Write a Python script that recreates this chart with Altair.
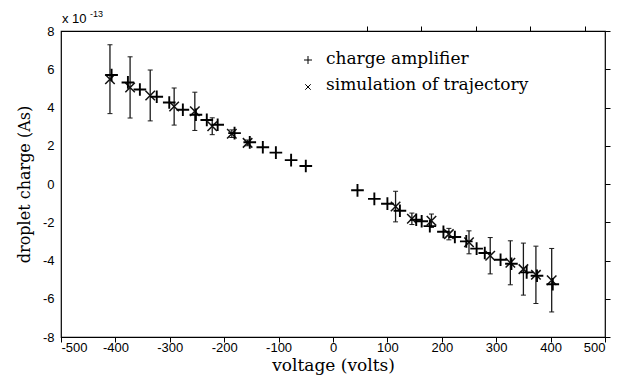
import altair as alt
import pandas as pd

# charge amplifier measurements (voltage in V, charge in 1e-13 As)
amp_v = [-407, -377, -355, -324, -301, -276, -252, -232, -212, -181, -153, -129, -105, -77, -50,
         45, 76, 100, 123, 153, 163, 178, 203, 224, 245, 264, 279, 308, 328, 356, 375, 404]
amp_q = [5.70, 5.31, 4.94, 4.56, 4.26, 3.88, 3.62, 3.35, 3.10, 2.66, 2.18, 1.92, 1.64, 1.25, 0.94,
         -0.33, -0.78, -1.03, -1.40, -1.87, -1.95, -2.20, -2.50, -2.77, -3.00, -3.38, -3.61, -3.96, -4.17, -4.62, -4.80, -5.24]

# simulation of trajectory (voltage, charge, error half-width)
sim_v = [-410, -373, -336, -292, -254, -222, -186, -157, 115, 145, 181, 213, 250, 289, 326, 350, 373, 402]
sim_q = [5.48, 5.05, 4.63, 4.05, 3.80, 3.02, 2.63, 2.15, -1.18, -1.82, -1.92, -2.62, -3.05, -3.75, -4.12, -4.45, -4.75, -5.03]
sim_e = [1.80, 1.60, 1.33, 0.97, 1.00, 0.44, 0.20, 0.15, 0.80, 0.30, 0.35, 0.30, 0.60, 0.95, 1.15, 1.36, 1.50, 1.66]

x_ticks = [-500, -400, -300, -200, -100, 0, 100, 200, 300, 400, 500]
y_ticks = [-8, -6, -4, -2, 0, 2, 4, 6, 8]

amp = pd.DataFrame({"V": amp_v, "Q": amp_q})
sim = pd.DataFrame({"V": sim_v, "Q": sim_q, "E": sim_e})
sim["lo"] = sim["Q"] - sim["E"]
sim["hi"] = sim["Q"] + sim["E"]
caps = pd.DataFrame({"V": sim_v * 2, "Q": list(sim["lo"]) + list(sim["hi"])})

W, H = 544, 306
xs = alt.Scale(domain=[-500, 500], nice=False, zero=False)
ys = alt.Scale(domain=[-8, 8], nice=False, zero=False)

SERIF = "DejaVu Serif"
SANS = "Liberation Sans"

def inward(orient, pos, vals):
    return alt.Axis(orient=orient, position=pos, values=vals, labels=False, title=None,
                    domain=False, grid=False, ticks=True, tickSize=5, tickColor="black",
                    tickWidth=1)

main_x = alt.Axis(orient="bottom", values=x_ticks, ticks=False, domain=False, grid=False,
                  labelFont=SANS, labelFontSize=13, labelColor="black", labelPadding=4,
                  labelExpr="'' + datum.value",
                  title="voltage (volts)", titleFont=SERIF, titleFontSize=17,
                  titleFontWeight="normal", titleColor="black", titlePadding=3)
main_y = alt.Axis(orient="left", values=y_ticks, ticks=False, domain=False, grid=False,
                  labelFont=SANS, labelFontSize=13, labelColor="black", labelPadding=7,
                  labelExpr="'' + datum.value",
                  title="droplet charge (As)", titleFont=SERIF, titleFontSize=16,
                  titleFontWeight="normal", titleColor="black", titlePadding=10)

errbars = alt.Chart(sim).mark_rule(color="#1a1a1a", strokeWidth=1.3).encode(
    x=alt.X("V:Q", scale=xs, axis=inward("top", H, x_ticks)),
    y=alt.Y("lo:Q", scale=ys, axis=inward("right", 0, y_ticks)),
    y2="hi:Q",
)

capmarks = alt.Chart(caps).mark_tick(orient="horizontal", size=5, thickness=1,
                                     color="#1a1a1a", opacity=1).encode(
    x=alt.X("V:Q", scale=xs, axis=inward("bottom", 0, x_ticks)),
    y=alt.Y("Q:Q", scale=ys, axis=inward("left", W, y_ticks)),
)

PLUS = "M-1,0L1,0M0,-1L0,1"
CROSS = "M-1,-1L1,1M-1,1L1,-1"

amp_pts = alt.Chart(amp).mark_point(shape=PLUS, size=160, filled=False, color="black",
                                    strokeWidth=1.9, opacity=1).encode(
    x=alt.X("V:Q", scale=xs, axis=main_x),
    y=alt.Y("Q:Q", scale=ys, axis=main_y),
)

sim_pts = alt.Chart(sim).mark_point(shape=CROSS, size=90, filled=False, color="#111111",
                                    strokeWidth=1.5, opacity=1).encode(
    x=alt.X("V:Q", scale=xs, axis=None),
    y=alt.Y("Q:Q", scale=ys, axis=None),
)

leg_df = pd.DataFrame({"a": [0]})
leg_plus = alt.Chart(leg_df).mark_point(shape=PLUS, size=64, filled=False, color="black",
                                        strokeWidth=1, opacity=1).encode(
    x=alt.value(247), y=alt.value(29))
leg_cross = alt.Chart(leg_df).mark_point(shape=CROSS, size=30, filled=False, color="black",
                                         strokeWidth=1, opacity=1).encode(
    x=alt.value(247), y=alt.value(56))
leg_t1 = alt.Chart(leg_df).mark_text(text="charge amplifier", font=SERIF, fontSize=17,
                                     align="left", baseline="middle", color="black").encode(
    x=alt.value(265), y=alt.value(28))
leg_t2 = alt.Chart(leg_df).mark_text(text="simulation of trajectory", font=SERIF, fontSize=17,
                                     align="left", baseline="middle", color="black").encode(
    x=alt.value(265), y=alt.value(54))

exp_base = alt.Chart(leg_df).mark_text(text="x 10", font=SANS, fontSize=13,
                                       align="left", baseline="middle", color="black").encode(
    x=alt.value(1), y=alt.value(-12))
exp_sup = alt.Chart(leg_df).mark_text(text="-13", font=SANS, fontSize=9,
                                      align="left", baseline="middle", color="black").encode(
    x=alt.value(29), y=alt.value(-17))

chart = alt.layer(
    errbars, capmarks, sim_pts, amp_pts, leg_plus, leg_cross, leg_t1, leg_t2, exp_base, exp_sup
).resolve_axis(x="independent", y="independent").properties(
    width=W, height=H,
    background="white",
    autosize=alt.AutoSizeParams(type="none"),
    padding={"left": 53, "top": 23, "right": 20, "bottom": 40},
).configure_view(stroke="#000000", strokeWidth=1.2)

chart.save("out.html", embed_options={"renderer": "svg", "actions": False})
